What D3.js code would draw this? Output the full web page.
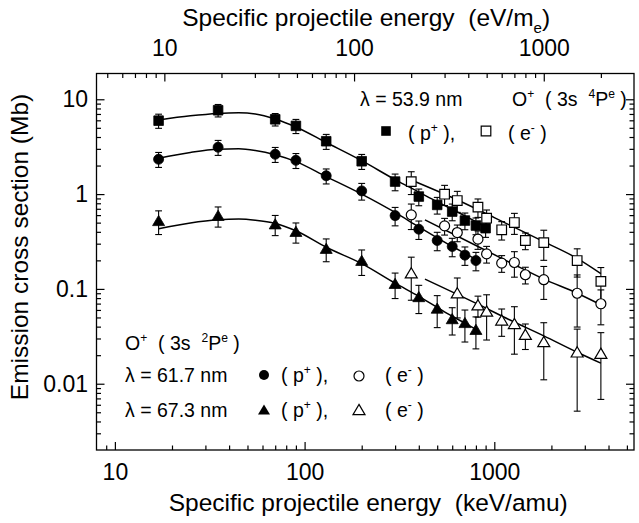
<!DOCTYPE html>
<html><head><meta charset="utf-8">
<script src="https://cdn.jsdelivr.net/npm/d3@7"></script>
<style>
html,body{margin:0;padding:0;background:#fff;}
svg text{font-family:"Liberation Sans",Arial,Helvetica,sans-serif;fill:#000;white-space:pre;}
</style></head><body>
<svg id="chart" width="639" height="523" xmlns="http://www.w3.org/2000/svg"></svg>
<script>
// ---------- DATA ----------
// proton impact energies (keV/amu)
const pEnergy = [17, 35, 70, 90, 130, 200, 300, 400, 500, 600, 700, 800, 900];
// 53.9 nm (filled squares), 61.7 nm (filled circles), 67.3 nm (filled triangles)  [Mb]
const p539 = [5.95, 7.66, 6.15, 5.24, 3.61, 2.22, 1.355, 0.942, 0.769, 0.654, 0.526, 0.466, 0.437];
const p539Err = [0.17, 0.15, 0.15, 0.17, 0.18, 0.18, 0.2, 0.2, 0.2, 0.2, 0.2, 0.2, 0.2];
const p617 = [2.33, 3.12, 2.63, 2.27, 1.56, 1.08, 0.593, 0.426, 0.324, 0.280, 0.227, 0.199];
const p617Err = [0.18, 0.18, 0.18, 0.18, 0.18, 0.2, 0.22, 0.22, 0.22, 0.22, 0.22, 0.22];
const p673 = [0.52, 0.59, 0.48, 0.40, 0.265, 0.198, 0.113, 0.082, 0.062, 0.048, 0.0437, 0.037];
const p673Err = [0.28, 0.24, 0.24, 0.24, 0.27, 0.3, 0.3, 0.33, 0.37, 0.32, 0.37, 0.37];

// electron impact energies (keV/amu equivalent)
const eEnergy = [365, 547, 638, 820, 911, 1094, 1276, 1458, 1823, 2734, 3646];
const e539 = [1.355, 0.997, 0.855, 0.728, 0.557, 0.42, 0.501, 0.324, 0.308, 0.199, 0.120];
const e539Err = [0.27, 0.24, 0.25, 0.22, 0.22, 0.22, 0.25, 0.2, 0.35, 0.33, 0.4];
const e617 = [0.604, 0.462, 0.393, 0.335, 0.234, 0.187, 0.190, 0.141, 0.125, 0.090, 0.0697];
const e617Err = [0.3, 0.2, 0.2, 0.22, 0.2, 0.2, 0.3, 0.2, 0.38, 0.56, 0.4];
const e673Energy = [365, 638, 820, 911, 1094, 1276, 1458, 1823, 2734, 3646];
const e673 = [0.146, 0.0899, 0.0671, 0.0578, 0.0465, 0.0427, 0.0328, 0.0275, 0.0214, 0.0207];
const e673Err = [0.48, 0.45, 0.25, 0.5, 0.32, 0.52, 0.3, 0.6, 0.76, 0.67];

// fitted curves
const fitPEnergy = [17, 25, 35, 45, 55, 70, 90, 130, 200, 300, 400, 500, 600, 700, 800, 900];
const fitP539 = [6.05, 6.7, 7.1, 7.2, 7.0, 6.2, 5.1, 3.5, 2.25, 1.42, 1.05, 0.83, 0.69, 0.59, 0.51, 0.45];
const fitP617 = [2.39, 2.75, 2.97, 3.0, 2.88, 2.6, 2.2, 1.53, 1.0, 0.64, 0.45, 0.345, 0.28, 0.237, 0.205, null];
const fitP673 = [0.43, 0.495, 0.535, 0.545, 0.53, 0.49, 0.41, 0.275, 0.185, 0.115, 0.0835, 0.064, 0.0515, 0.0435, 0.0375, null];
const fitE539Energy = [365, 600, 1000, 1823, 2734, 3646];
const fitE539 = [1.41, 0.92, 0.565, 0.315, 0.21, 0.145];
const fitEEnergy = [431, 820, 1210, 1823, 2734, 3646];
const fitE617 = [0.535, 0.28, 0.19, 0.127, 0.09, 0.068];
const fitE673 = [0.127, 0.069, 0.047, 0.032, 0.0215, 0.0165];

// axes
const xDomain = [8, 5450];
const yDomain = [0.002, 18.7];
const KEVAMU_TO_EVME = 0.54858;
const xMajor = [10, 100, 1000];
const xTickLabels = ["10", "100", "1000"];
const xMinor = [9, 20, 30, 40, 50, 60, 70, 80, 90, 200, 300, 400, 500, 600, 700, 800, 900, 2000, 3000, 4000, 5000];
const topMajor = [10, 100, 1000];
const topTickLabels = ["10", "100", "1000"];
const topMinor = [5, 6, 7, 8, 9, 20, 30, 40, 50, 60, 70, 80, 90, 200, 300, 400, 500, 600, 700, 800, 900, 2000];
const yMajor = [0.01, 0.1, 1, 10];
const yTickLabels = ["0.01", "0.1", "1", "10"];
const yMinor = [0.003, 0.004, 0.005, 0.006, 0.007, 0.008, 0.009, 0.02, 0.03, 0.04, 0.05, 0.06, 0.07, 0.08, 0.09,
                0.2, 0.3, 0.4, 0.5, 0.6, 0.7, 0.8, 0.9, 2, 3, 4, 5, 6, 7, 8, 9];

// ---------- DRAWING ----------
const FONT = '"Liberation Sans", Arial, Helvetica, sans-serif';
const svg = d3.select("#chart");
const X0 = 96.5, X1 = 634, Y0 = 73.5, Y1 = 450;
const x = d3.scaleLog().domain(xDomain).range([X0, X1]);
const xTop = d3.scaleLog().domain(xDomain.map(d => d * KEVAMU_TO_EVME)).range([X0, X1]);
const y = d3.scaleLog().domain(yDomain).range([Y1, Y0]);

function styleAxis(g) {
  g.select(".domain").remove();
  g.selectAll("line").attr("stroke", "#000").attr("stroke-width", 1.2);
  g.selectAll("text").attr("font-family", FONT).attr("font-size", 23).attr("fill", "#000");
}
// bottom
svg.append("g").attr("transform", `translate(0,${Y1})`)
  .call(d3.axisBottom(x).tickValues(xMinor).tickSize(-4.5).tickSizeOuter(0).tickFormat("")).call(styleAxis);
svg.append("g").attr("transform", `translate(0,${Y1})`)
  .call(d3.axisBottom(x).tickValues(xMajor).tickSize(-8).tickSizeOuter(0).tickPadding(13.5)
    .tickFormat((d, i) => xTickLabels[i])).call(styleAxis);
// top
svg.append("g").attr("transform", `translate(0,${Y0})`)
  .call(d3.axisTop(xTop).tickValues(topMinor).tickSize(-4.5).tickSizeOuter(0).tickFormat("")).call(styleAxis);
svg.append("g").attr("transform", `translate(0,${Y0})`)
  .call(d3.axisTop(xTop).tickValues(topMajor).tickSize(-8).tickSizeOuter(0).tickPadding(18)
    .tickFormat((d, i) => topTickLabels[i])).call(styleAxis);
// left
svg.append("g").attr("transform", `translate(${X0},0)`)
  .call(d3.axisLeft(y).tickValues(yMinor).tickSize(-4.5).tickSizeOuter(0).tickFormat("")).call(styleAxis);
svg.append("g").attr("transform", `translate(${X0},0)`)
  .call(d3.axisLeft(y).tickValues(yMajor).tickSize(-8).tickSizeOuter(0).tickPadding(8.5)
    .tickFormat((d, i) => yTickLabels[i])).call(styleAxis);
// right
svg.append("g").attr("transform", `translate(${X1},0)`)
  .call(d3.axisRight(y).tickValues(yMinor).tickSize(-4.5).tickSizeOuter(0).tickFormat("")).call(styleAxis);
svg.append("g").attr("transform", `translate(${X1},0)`)
  .call(d3.axisRight(y).tickValues(yMajor).tickSize(-8).tickSizeOuter(0).tickFormat("")).call(styleAxis);

// frame
svg.append("rect").attr("x", X0).attr("y", Y0).attr("width", X1 - X0).attr("height", Y1 - Y0)
  .attr("fill", "none").attr("stroke", "#000").attr("stroke-width", 1.3);

// fit lines
const line = d3.line().x(d => x(d[0])).y(d => y(d[1])).curve(d3.curveMonotoneX);
const fits = [
  fitPEnergy.map((e, i) => [e, fitP539[i]]),
  fitPEnergy.map((e, i) => [e, fitP617[i]]),
  fitPEnergy.map((e, i) => [e, fitP673[i]]),
  fitE539Energy.map((e, i) => [e, fitE539[i]]),
  fitEEnergy.map((e, i) => [e, fitE617[i]]),
  fitEEnergy.map((e, i) => [e, fitE673[i]])
];
svg.append("g").selectAll("path").data(fits).join("path")
  .attr("d", d => line(d.filter(p => p[1] != null)))
  .attr("fill", "none").attr("stroke", "#000").attr("stroke-width", 1.5);

// marker shapes
function markerPath(type) {
  if (type === "square") return "M-4.8,-4.8H4.8V4.8H-4.8Z";
  if (type === "circle") return d3.symbol().type(d3.symbolCircle).size(Math.PI * 5 * 5)();
  return "M0,-5.6L6,4.6L-6,4.6Z";
}
const series = [
  {E: pEnergy, v: p539, err: p539Err, type: "square", open: false},
  {E: pEnergy, v: p617, err: p617Err, type: "circle", open: false},
  {E: pEnergy, v: p673, err: p673Err, type: "triangle", open: false},
  {E: eEnergy, v: e539, err: e539Err, type: "square", open: true},
  {E: eEnergy, v: e617, err: e617Err, type: "circle", open: true},
  {E: e673Energy, v: e673, err: e673Err, type: "triangle", open: true}
];
// error bars
const ebG = svg.append("g").attr("stroke", "#000").attr("stroke-width", 1.1);
series.forEach(s => {
  s.v.forEach((v, i) => {
    const cx = x(s.E[i]);
    const lo = y(v * (1 - s.err[i])), hi = y(v * (1 + s.err[i]));
    ebG.append("line").attr("x1", cx).attr("x2", cx).attr("y1", lo).attr("y2", hi);
    ebG.append("line").attr("x1", cx - 3.4).attr("x2", cx + 3.4).attr("y1", lo).attr("y2", lo);
    ebG.append("line").attr("x1", cx - 3.4).attr("x2", cx + 3.4).attr("y1", hi).attr("y2", hi);
  });
});
// markers
series.forEach(s => {
  svg.append("g").selectAll("path").data(s.v.map((v, i) => [s.E[i], v])).join("path")
    .attr("d", markerPath(s.type))
    .attr("transform", d => `translate(${x(d[0])},${y(d[1])})`)
    .attr("fill", s.open ? "#fff" : "#000")
    .attr("stroke", "#000").attr("stroke-width", s.open ? 1.2 : 0.8);
});

// rich text helper
function rich(x0, y0, parts, fs, anchor) {
  const t = svg.append("text").attr("x", x0).attr("y", y0).attr("font-size", fs)
    .attr("text-anchor", anchor || "start");
  let shift = 0;
  parts.forEach(p => {
    let target = 0, size = fs;
    if (p.sup) { target = -0.42 * fs; size = 0.62 * fs; }
    if (p.sub) { target = 0.28 * fs; size = 0.62 * fs; }
    t.append("tspan").attr("dy", target - shift).attr("font-size", size).text(p.t);
    shift = target;
  });
  return t;
}
const LFS = 19.5;
// top-right legend
rich(360, 106, [{t: "\u03bb = 53.9 nm"}], LFS);
rich(512, 106, [{t: "O"}, {t: "+", sup: true}, {t: "  ( 3s  "}, {t: "4", sup: true}, {t: "P"}, {t: "e", sup: true}, {t: " )"}], LFS);
svg.append("path").attr("d", markerPath("square")).attr("transform", "translate(386,131)").attr("fill", "#000");
rich(408, 140, [{t: "( p"}, {t: "+", sup: true}, {t: " ),"}], LFS);
svg.append("path").attr("d", markerPath("square")).attr("transform", "translate(486,131)")
  .attr("fill", "#fff").attr("stroke", "#000").attr("stroke-width", 1.2);
rich(508, 140, [{t: "( e"}, {t: "-", sup: true}, {t: " )"}], LFS);

// bottom-left legend
rich(125, 350, [{t: "O"}, {t: "+", sup: true}, {t: "  ( 3s  "}, {t: "2", sup: true}, {t: "P"}, {t: "e", sup: true}, {t: " )"}], LFS);
rich(125, 382, [{t: "\u03bb = 61.7 nm"}], LFS);
rich(125, 417, [{t: "\u03bb = 67.3 nm"}], LFS);
svg.append("path").attr("d", markerPath("circle")).attr("transform", "translate(264,375)").attr("fill", "#000");
svg.append("path").attr("d", markerPath("triangle")).attr("transform", "translate(264,410)").attr("fill", "#000");
rich(281, 382, [{t: "( p"}, {t: "+", sup: true}, {t: " ),"}], LFS);
rich(281, 417, [{t: "( p"}, {t: "+", sup: true}, {t: " ),"}], LFS);
svg.append("path").attr("d", markerPath("circle")).attr("transform", "translate(359,376)")
  .attr("fill", "#fff").attr("stroke", "#000").attr("stroke-width", 1.2);
svg.append("path").attr("d", markerPath("triangle")).attr("transform", "translate(359,410)")
  .attr("fill", "#fff").attr("stroke", "#000").attr("stroke-width", 1.2);
rich(385, 382, [{t: "( e"}, {t: "-", sup: true}, {t: " )"}], LFS);
rich(385, 417, [{t: "( e"}, {t: "-", sup: true}, {t: " )"}], LFS);

// axis titles
rich((X0 + X1) / 2 + 1, 26, [{t: "Specific projectile energy  (eV/m"}, {t: "e", sub: true}, {t: ")"}], 24.5, "middle");
rich((X0 + X1) / 2 + 3, 511, [{t: "Specific projectile energy  (keV/amu)"}], 24.5, "middle");
svg.append("text").attr("transform", "translate(28,247) rotate(-90)").attr("text-anchor", "middle")
  .attr("font-size", 24.5).text("Emission cross section (Mb)");
</script>
</body></html>
